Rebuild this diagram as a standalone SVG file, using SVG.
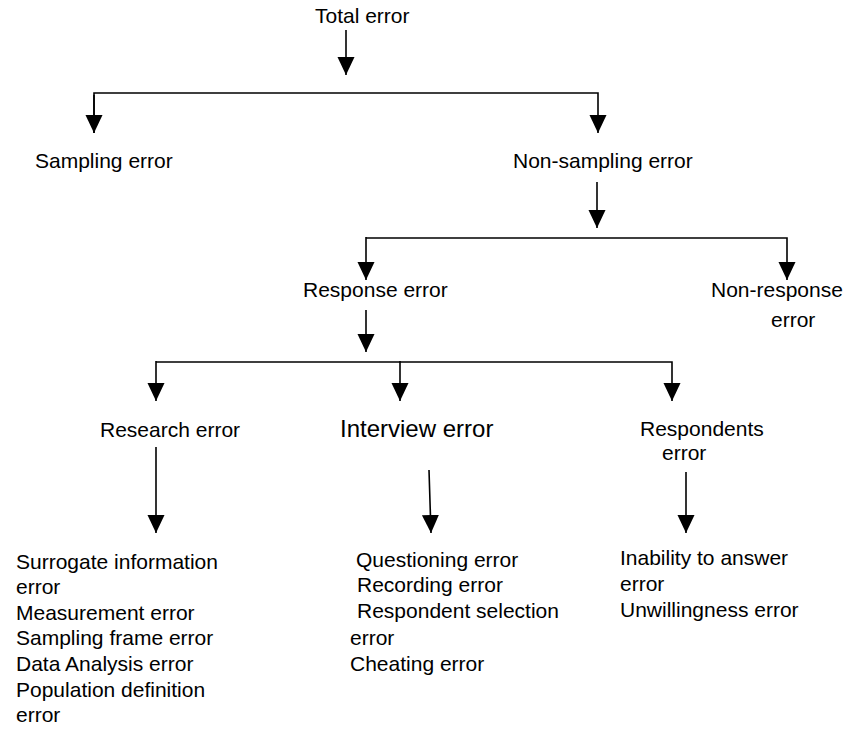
<svg xmlns="http://www.w3.org/2000/svg" width="845" height="743" viewBox="0 0 845 743">
<style>
text{font-family:"Liberation Sans",Arial,sans-serif;font-size:21px;fill:#000}
.big{font-size:24px}
.c line,.c polyline{stroke:#000;stroke-width:1.6;fill:none}
</style>
<defs>
<marker id="ah" markerUnits="userSpaceOnUse" markerWidth="18" markerHeight="19" refX="19" refY="9" orient="auto" viewBox="0 0 19 18">
<path d="M0,0 L19,9 L0,18 z" fill="#000"/>
</marker>
</defs>
<rect width="845" height="743" fill="#fff"/>
<g id="connectors" class="c">
<line x1="346" y1="30" x2="346" y2="75" marker-end="url(#ah)"/>
<polyline points="94,133 94,93 598,93 598,133" marker-end="url(#ah)"/>
<line x1="94" y1="95" x2="94" y2="133" marker-end="url(#ah)"/>
<line x1="597" y1="182" x2="597" y2="228" marker-end="url(#ah)"/>
<polyline points="366,238 787,238 787,280" marker-end="url(#ah)"/>
<line x1="366" y1="237" x2="366" y2="280" marker-end="url(#ah)"/>
<line x1="366" y1="310" x2="366" y2="352" marker-end="url(#ah)"/>
<polyline points="156,362 672,362 672,401" marker-end="url(#ah)"/>
<line x1="156" y1="361" x2="156" y2="401" marker-end="url(#ah)"/>
<line x1="400" y1="361" x2="400" y2="401" marker-end="url(#ah)"/>
<line x1="156" y1="447" x2="156" y2="533" marker-end="url(#ah)"/>
<line x1="429" y1="470" x2="431" y2="533" marker-end="url(#ah)"/>
<line x1="686" y1="472" x2="686" y2="533" marker-end="url(#ah)"/>
</g>
<g id="total"><text x="315" y="23">Total error</text></g>
<g id="sampling"><text x="35" y="168">Sampling error</text></g>
<g id="nonsampling"><text x="513" y="168">Non-sampling error</text></g>
<g id="response"><text x="303" y="297">Response error</text></g>
<g id="nonresponse"><text x="711" y="297">Non-response</text><text x="771" y="327">error</text></g>
<g id="research"><text x="100" y="437">Research error</text></g>
<g id="interview"><text class="big" x="340" y="437">Interview error</text></g>
<g id="respondents"><text x="640" y="436">Respondents</text><text x="662" y="460">error</text></g>
<g id="research-list">
<text x="16" y="569">Surrogate information</text>
<text x="16" y="594">error</text>
<text x="16" y="620">Measurement error</text>
<text x="16" y="645">Sampling frame error</text>
<text x="16" y="671">Data Analysis error</text>
<text x="16" y="697">Population definition</text>
<text x="16" y="722">error</text>
</g>
<g id="interview-list">
<text x="356" y="567">Questioning error</text>
<text x="357" y="592">Recording error</text>
<text x="357" y="618">Respondent selection</text>
<text x="350" y="645">error</text>
<text x="350" y="671">Cheating error</text>
</g>
<g id="respondents-list">
<text x="620" y="565">Inability to answer</text>
<text x="620" y="591">error</text>
<text x="620" y="617">Unwillingness error</text>
</g>
</svg>
